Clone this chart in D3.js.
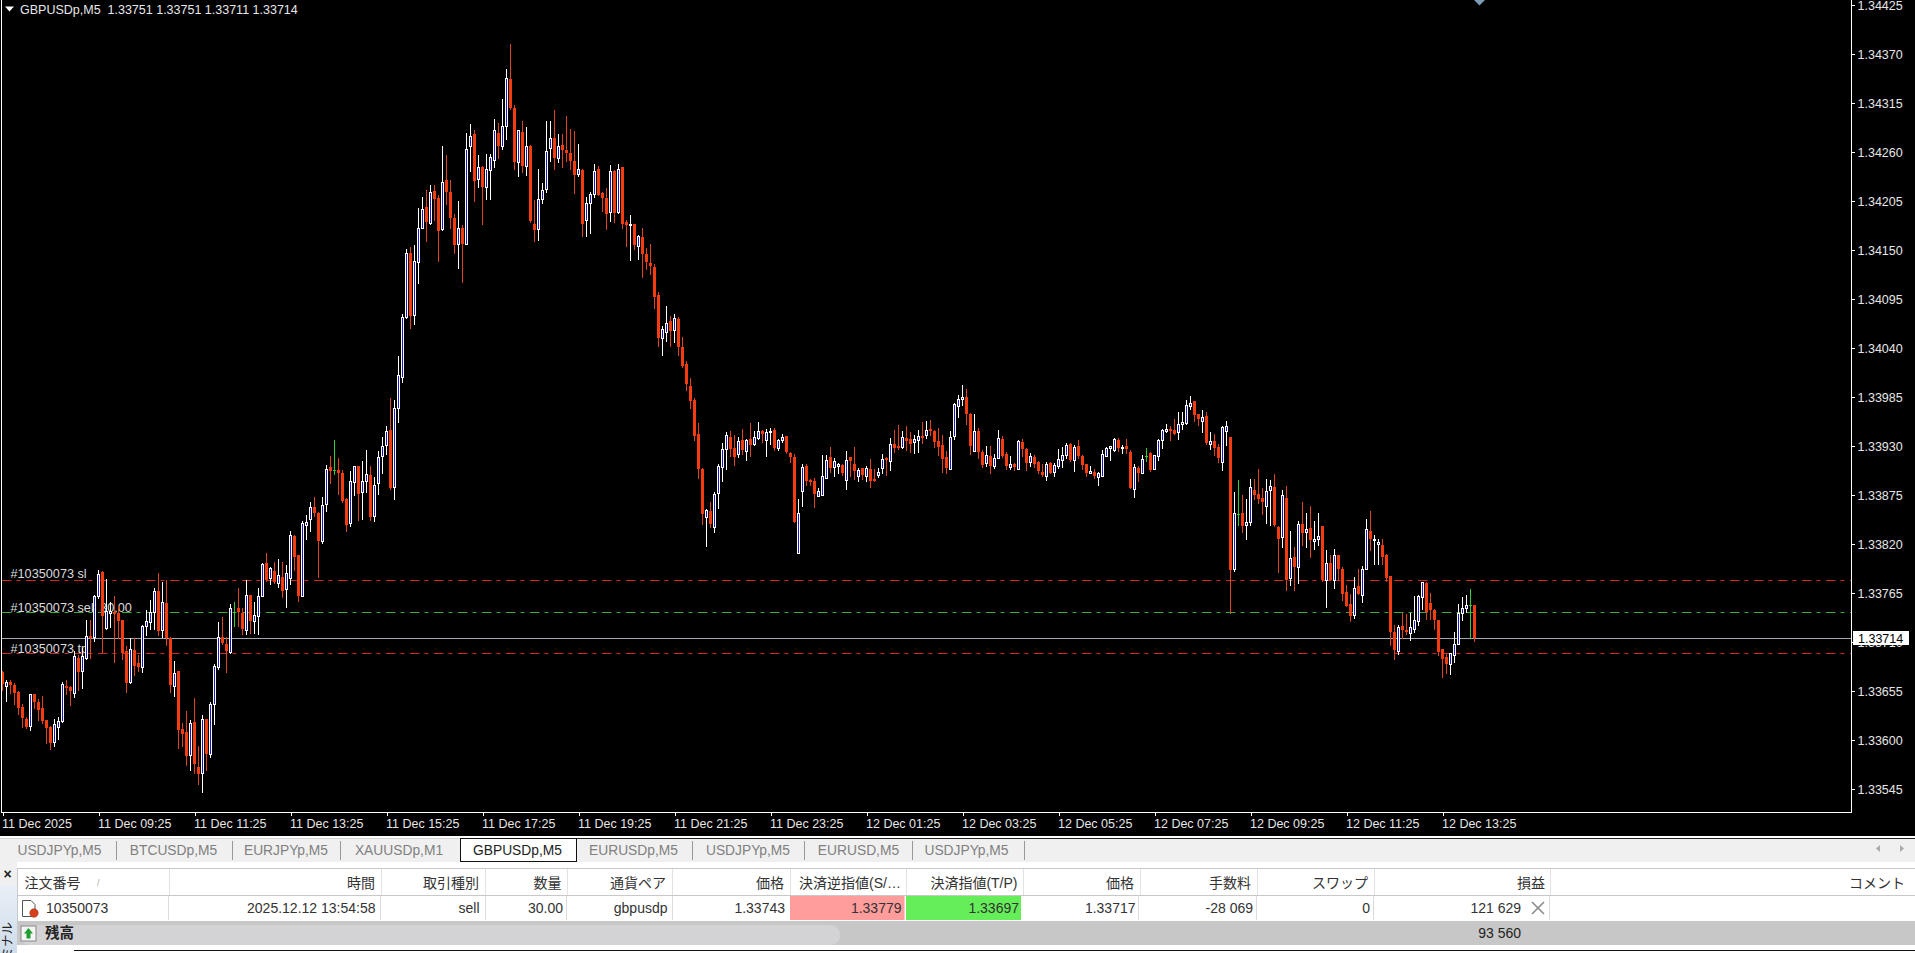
<!DOCTYPE html>
<html><head><meta charset="utf-8"><title>GBPUSDp,M5</title>
<script src="https://cdn.jsdelivr.net/npm/d3@7"></script>
<style>
html,body{margin:0;padding:0;background:#000;overflow:hidden}
svg{display:block}
text{font-family:"Liberation Sans","Noto Sans CJK JP",sans-serif}
</style></head><body><svg id="c" width="1915" height="953"></svg>
<script>
// ---- data: prices are stored as points above 1.33000 ----
const priceBase = 1.33;
const openPts = [676,661,665,662,654,637,624,616,651,643,636,622,615,598,615,621,661,659,653,692,677,692,717,715,761,788,726,742,744,742,734,700,665,701,686,682,728,732,744,767,723,754,714,660,677,612,609,583,620,570,563,623,584,640,682,716,708,699,743,748,742,723,
763,733,739,762,798,782,789,776,783,769,782,829,807,762,841,848,861,855,823,865,906,903,903,899,870,843,889,907,878,891,897,851,888,919,931,948,884,973,1007,1075,1147,1077,1136,1175,1198,1180,1216,1208,1173,1228,1215,1186,1156,1175,1157,1266,1280,1230,1243,1220,1240,1251,1281,
1267,1289,1342,1309,1249,1282,1244,1267,1179,1173,1207,1218,1264,1276,1253,1268,1262,1259,1250,1235,1240,1183,1203,1213,1241,1214,1208,1192,1239,1192,1243,1181,1178,1179,1154,1164,1145,1135,1131,1099,1051,1058,1070,1060,1072,1041,1022,997,981,943,904,850,857,839,877,906,926,940,928,921,937,924,
938,932,939,947,937,946,948,928,937,941,922,918,810,879,907,892,890,874,875,894,918,906,907,909,892,918,910,896,905,896,904,893,897,905,916,913,932,930,929,939,938,934,937,941,942,949,947,936,931,918,904,941,975,983,985,966,924,947,923,911,919,907,916,
938,921,906,910,904,934,927,912,918,912,901,896,911,901,907,914,920,932,914,930,919,910,899,901,895,896,919,928,925,937,928,930,923,882,905,900,919,922,904,919,937,947,949,948,946,955,956,975,980,966,958,964,932,936,929,912,947,940,792,853,
855,841,844,881,876,872,862,880,884,839,828,872,782,805,794,842,833,838,823,825,840,779,798,780,807,792,766,752,740,773,763,792,835,824,820,819,807,784,721,700,728,723,720,724,733,760,776,754,746,734,702,693,685,695,708,742,748,751,751];
const highPts = [677,667,667,664,655,640,626,651,652,646,649,622,616,623,626,665,667,661,700,695,703,735,734,763,791,790,781,755,761,750,735,705,714,714,695,729,746,757,770,787,777,780,716,688,677,619,632,622,647,593,628,623,643,685,732,738,716,752,755,770,748,779,
763,755,771,798,810,794,800,803,800,796,835,830,807,846,852,867,873,856,873,908,919,937,916,903,871,902,907,907,913,925,907,895,924,940,952,984,981,1031,1078,1151,1153,1155,1197,1209,1217,1223,1223,1212,1267,1256,1228,1190,1205,1178,1281,1291,1285,1256,1244,1257,1257,1297,1292,
1319,1353,1381,1312,1285,1295,1288,1268,1206,1241,1225,1295,1295,1307,1280,1280,1300,1286,1283,1269,1241,1209,1215,1246,1244,1215,1219,1245,1240,1246,1243,1183,1189,1179,1167,1175,1152,1157,1134,1103,1064,1087,1076,1078,1075,1052,1025,1006,984,956,905,859,867,878,910,933,945,947,942,940,949,938,
956,947,957,948,949,950,950,938,943,941,923,921,870,910,910,893,894,883,920,920,929,916,911,910,924,918,929,905,905,907,915,904,905,921,918,939,948,953,947,952,945,942,948,957,958,959,948,950,942,924,947,978,987,998,994,967,966,950,925,930,930,921,948,
941,923,919,911,937,938,928,922,920,913,910,912,912,911,927,929,933,933,931,937,920,910,907,904,901,925,929,930,939,939,931,938,925,910,907,920,928,923,920,938,949,955,952,960,968,968,982,986,980,966,970,968,945,943,932,952,958,940,878,892,
875,870,893,893,904,883,893,892,898,840,880,885,834,816,846,867,855,862,846,855,840,813,807,814,807,794,774,764,783,792,795,848,857,830,825,826,809,784,729,729,742,741,742,761,763,777,777,765,747,734,702,696,697,721,752,760,763,769,751];
const lowPts = [656,644,653,640,629,614,613,611,636,622,619,596,590,593,601,620,651,639,648,656,658,691,692,711,759,699,724,727,687,714,691,654,664,673,677,676,718,725,725,718,716,707,654,649,591,593,572,566,563,551,542,566,581,618,680,708,676,698,728,728,719,719,
720,720,719,761,778,775,776,772,760,749,775,791,756,761,825,834,851,783,821,857,888,898,876,867,835,840,875,847,848,878,847,846,876,900,921,882,870,957,1002,1074,1062,1067,1113,1174,1160,1179,1184,1138,1172,1201,1175,1146,1130,1114,1156,1238,1205,1220,1179,1207,1207,1243,1253,
1263,1274,1308,1241,1233,1237,1234,1181,1160,1161,1203,1215,1250,1241,1249,1243,1250,1241,1214,1233,1166,1166,1169,1209,1211,1194,1173,1182,1181,1191,1174,1154,1139,1151,1140,1120,1128,1123,1085,1042,1032,1048,1042,1047,1032,1019,993,972,937,894,842,818,839,833,860,891,904,919,909,917,921,914,
919,931,938,934,919,932,925,925,934,922,912,844,810,863,886,886,861,874,875,894,901,896,899,897,882,896,893,890,893,891,884,890,895,900,897,903,923,927,928,925,923,922,923,933,939,942,929,920,901,899,904,938,962,976,955,921,924,916,906,907,900,905,916,
918,904,904,903,904,919,903,907,906,900,896,892,900,896,905,906,916,913,902,916,904,896,899,894,886,896,919,914,924,924,922,922,883,873,891,900,913,902,904,914,928,945,937,943,938,949,955,971,958,953,946,932,927,920,912,903,931,742,789,841,
833,825,841,870,866,853,843,841,840,788,816,768,774,768,776,819,816,805,814,819,778,749,779,771,779,757,750,733,737,764,755,792,813,797,797,797,778,706,691,696,714,719,712,721,729,747,736,736,724,695,671,675,674,687,708,734,743,714,711];
const closePts = [663,665,662,653,636,625,614,651,643,633,621,613,596,618,621,663,658,655,694,676,694,717,714,761,786,739,745,745,742,733,698,664,702,683,682,728,733,744,767,722,755,714,662,675,611,607,582,619,573,562,624,584,640,683,716,709,700,748,743,743,724,763,
733,740,761,797,780,793,777,785,767,787,830,805,761,843,845,861,855,823,864,904,902,903,900,868,841,890,907,876,891,898,850,886,918,930,947,883,973,1009,1075,1146,1076,1137,1174,1196,1181,1215,1207,1171,1226,1215,1186,1155,1174,1156,1263,1278,1227,1243,1220,1241,1254,1284,1266,
1289,1343,1309,1249,1284,1244,1266,1182,1172,1207,1217,1261,1276,1253,1266,1262,1259,1250,1234,1241,1179,1202,1213,1239,1212,1208,1190,1238,1191,1241,1179,1178,1179,1155,1166,1145,1136,1132,1097,1051,1061,1068,1059,1074,1041,1020,999,980,941,904,853,858,842,876,907,926,942,927,918,936,925,937,
931,940,947,943,945,947,928,937,940,923,918,844,855,906,891,890,876,879,896,914,905,913,910,900,914,913,902,903,897,905,891,891,901,915,914,932,928,928,940,936,932,938,941,939,948,947,934,929,915,905,940,977,983,985,966,930,947,923,909,920,907,916,939,
919,907,910,906,936,927,911,919,910,902,897,910,900,909,915,920,931,914,929,919,909,900,902,896,899,921,928,930,938,928,929,927,883,906,900,915,919,903,920,937,948,949,947,943,955,957,976,978,965,960,962,933,936,928,916,951,952,791,855,853,
840,844,884,875,870,867,879,885,841,826,875,780,804,794,842,832,837,824,826,829,779,798,780,807,792,764,750,739,771,764,792,837,825,826,822,805,782,721,701,727,723,721,727,734,761,777,743,746,734,699,691,685,697,708,742,748,751,751,714];

const priceTicks = [1.34425,1.3437,1.34315,1.3426,1.34205,1.3415,1.34095,1.3404,1.33985,1.3393,1.33875,1.3382,1.33765,1.3371,1.33655,1.336,1.33545];
const timeLabels = ["11 Dec 2025","11 Dec 09:25","11 Dec 11:25","11 Dec 13:25","11 Dec 15:25","11 Dec 17:25","11 Dec 19:25","11 Dec 21:25","11 Dec 23:25","12 Dec 01:25","12 Dec 03:25","12 Dec 05:25","12 Dec 07:25","12 Dec 09:25","12 Dec 11:25","12 Dec 13:25"];
const barsPerTick = 24;
const bidPrice = 1.33714, slPrice = 1.33779, entryPrice = 1.33743, tpPrice = 1.33697;
const chartTitle = "GBPUSDp,M5  1.33751 1.33751 1.33711 1.33714";
const tabNames = ["USDJPYp,M5","BTCUSDp,M5","EURJPYp,M5","XAUUSDp,M1","GBPUSDp,M5","EURUSDp,M5","USDJPYp,M5","EURUSD,M5","USDJPYp,M5"];
const activeTab = 4;
const headerNames = ["時間","取引種別","数量","通貨ペア","価格","決済逆指値(S/…","決済指値(T/P)","価格","手数料","スワップ","損益","コメント"];
const orderValues = ["2025.12.12 13:54:58","sell","30.00","gbpusdp","1.33743","1.33779","1.33697","1.33717","-28 069","0","121 629"];
const orderId = "10350073", balanceLabel = "残高", balanceValue = "93 560";

// ---- layout ----
const W=1915, plotL=1.5, plotR=1851.5, plotB=812.5;
const svg=d3.select("#c");
const x=d3.scaleLinear().domain([0,barsPerTick]).range([2.5,98.5]);
const y=d3.scaleLinear().domain([1.33545,1.34425]).range([788.9,4.8]);
const px=p=>(Math.round(priceBase*1e5)+p)/1e5;
const Y=p=>Math.round(y(p));
const bars=openPts.map((o,i)=>({i,o:px(o),h:px(highPts[i]),l:px(lowPts[i]),c:px(closePts[i])}));
const col={up:"#ffffff",upFill:"#1616c8",down:"#f43c10",downWick:"#dc4420",doji:"#32cd32"};

svg.append("rect").attr("width",W).attr("height",953).attr("fill","#000");

// order labels and price lines sit behind the candles
const g=svg.append("g");
[["#10350073 sl",573.5],["#10350073 sell 30.00",607],["#10350073 tp",648]].forEach(([t,cy])=>{
  g.append("text").text(t).attr("x",10.5).attr("y",cy).attr("dy","0.36em").attr("fill","#dcdcdc").attr("font-size",12.7);
});
[[slPrice,"#cf2a1e"],[entryPrice,"#3fae3a"],[tpPrice,"#cf2a1e"]].forEach(([p,c])=>{
  g.append("line").attr("x1",2).attr("x2",plotR).attr("y1",Y(p)+.5).attr("y2",Y(p)+.5)
   .attr("stroke",c).attr("stroke-dasharray","9.5,5,4,5.5");
});
g.append("line").attr("x1",2).attr("x2",plotR).attr("y1",Y(bidPrice)+.5).attr("y2",Y(bidPrice)+.5).attr("stroke","#a4a8b0");

// candles
const cg=svg.append("g").attr("shape-rendering","crispEdges");
const kind=d=>d.c>d.o?"up":d.c<d.o?"down":"doji";
cg.selectAll("line.w").data(bars).join("line").attr("class","w")
  .attr("x1",d=>x(d.i)).attr("x2",d=>x(d.i)).attr("y1",d=>Y(d.h)).attr("y2",d=>Y(d.l)+1)
  .attr("stroke",d=>kind(d)==="up"?col.up:kind(d)==="down"?col.downWick:col.doji);
cg.selectAll("rect.b").data(bars.filter(d=>kind(d)!=="doji")).join("rect").attr("class","b")
  .attr("x",d=>x(d.i)-(kind(d)==="up"?1:1.5)).attr("width",d=>kind(d)==="up"?2:3)
  .attr("y",d=>Y(Math.max(d.o,d.c))+(kind(d)==="up"?.5:0))
  .attr("height",d=>Math.max(kind(d)==="up"?1:2,Y(Math.min(d.o,d.c))-Y(Math.max(d.o,d.c))))
  .attr("fill",d=>kind(d)==="up"?col.upFill:col.down)
  .attr("stroke",d=>kind(d)==="up"?col.up:"none");
cg.selectAll("line.d").data(bars.filter(d=>kind(d)==="doji")).join("line").attr("class","d")
  .attr("x1",d=>x(d.i)-1.5).attr("x2",d=>x(d.i)+1.5).attr("y1",d=>Y(d.o)+.5).attr("y2",d=>Y(d.o)+.5).attr("stroke",col.doji);

// frame and axes
const frame=svg.append("g").attr("shape-rendering","crispEdges").attr("stroke","#fff");
frame.append("line").attr("x1",plotL).attr("x2",plotL).attr("y1",0).attr("y2",plotB);
frame.append("line").attr("x1",plotL).attr("x2",plotR).attr("y1",plotB).attr("y2",plotB);
frame.append("line").attr("x1",plotR).attr("x2",plotR).attr("y1",0).attr("y2",plotB);

const ay=svg.append("g").attr("transform",`translate(${plotR},0)`)
  .call(d3.axisRight(y).tickValues(priceTicks).tickFormat(d3.format(".5f")).tickSize(3).tickPadding(3));
const ax=svg.append("g").attr("transform",`translate(0,${plotB})`)
  .call(d3.axisBottom(x).tickValues(timeLabels.map((_,i)=>i*barsPerTick)).tickFormat((_,i)=>timeLabels[i]).tickSize(3).tickPadding(4));
[ay,ax].forEach(a=>{a.select(".domain").remove();a.selectAll("line").attr("stroke","#fff").attr("shape-rendering","crispEdges");
  a.selectAll("text").attr("fill","#e6e6e6").attr("font-size",12.5).attr("font-family",'"Liberation Sans",sans-serif');});
ax.selectAll("text").attr("text-anchor","start").attr("dx",-1);
ay.selectAll("text").attr("transform","translate(0,0.5)");

// bid price box
svg.append("rect").attr("x",1853).attr("y",631).attr("width",56).attr("height",14).attr("fill","#fff");
svg.append("text").text(d3.format(".5f")(bidPrice)).attr("x",1858).attr("y",Y(bidPrice)).attr("dy","0.38em").attr("fill","#000").attr("font-size",12.5);

// title
svg.append("path").attr("d","M5,6.5H14L9.5,11.5Z").attr("fill","#fff");
svg.append("text").text(chartTitle).attr("x",20).attr("y",9).attr("dy","0.36em").attr("fill","#e8e8e8").attr("font-size",12.5).style("white-space","pre");
svg.append("path").attr("d","M1474,0H1485L1479.5,5.5Z").attr("fill","#7b9ab5");

// ---- lower panels ----
const ui=svg.append("g");
ui.append("rect").attr("x",0).attr("y",836).attr("width",W).attr("height",117).attr("fill","#fff");
ui.append("rect").attr("x",0).attr("y",839).attr("width",W).attr("height",23).attr("fill","#f0f0f0");
ui.append("line").attr("x1",0).attr("x2",461).attr("y1",838.5).attr("y2",838.5).attr("stroke","#d4d4d4").attr("shape-rendering","crispEdges");
ui.append("line").attr("x1",576).attr("x2",W).attr("y1",838.5).attr("y2",838.5).attr("stroke","#222").attr("shape-rendering","crispEdges");
const tabSep=[116,232.5,340,692.5,804.5,912.5,1024];
tabSep.forEach(v=>ui.append("line").attr("x1",v).attr("x2",v).attr("y1",841).attr("y2",860).attr("stroke","#999").attr("shape-rendering","crispEdges"));
ui.append("rect").attr("x",460.5).attr("y",838.5).attr("width",115.5).attr("height",23).attr("fill","#fff").attr("stroke","#111").attr("shape-rendering","crispEdges");
const tabCx=[59.5,173.5,286,399,517.5,633.5,748,858.5,966.5];
tabNames.forEach((t,i)=>ui.append("text").text(t).attr("x",tabCx[i]).attr("y",850).attr("dy","0.36em").attr("text-anchor","middle")
  .attr("font-size",13.8).attr("fill",i===activeTab?"#222":"#808080"));
ui.append("path").attr("d","M1880,845V852L1876,848.5Z").attr("fill","#aaa");
ui.append("path").attr("d","M1900,845V852L1904,848.5Z").attr("fill","#aaa");

// left strip
ui.append("rect").attr("x",0).attr("y",862).attr("width",17).attr("height",91).attr("fill","#f0f0f0");
const gr=svg.append("defs").append("linearGradient").attr("id","strip").attr("x1",0).attr("x2",0).attr("y1",0).attr("y2",1);
gr.append("stop").attr("offset",0).attr("stop-color","#e9eff6");gr.append("stop").attr("offset",1).attr("stop-color","#cfdcea");
ui.append("rect").attr("x",0).attr("y",885).attr("width",17).attr("height",68).attr("fill","url(#strip)");
ui.append("text").text("×").attr("x",7.5).attr("y",874).attr("dy","0.36em").attr("text-anchor","middle").attr("font-size",14).attr("font-weight","bold").attr("fill","#222");
ui.append("text").text("ターミナル").attr("transform","translate(12,922) rotate(-90)").attr("text-anchor","end").attr("font-size",12.5).attr("fill","#222");

// table
ui.append("line").attr("x1",17).attr("x2",W).attr("y1",868.5).attr("y2",868.5).attr("stroke","#c8c8c8").attr("shape-rendering","crispEdges");
ui.append("line").attr("x1",17).attr("x2",W).attr("y1",895.5).attr("y2",895.5).attr("stroke","#c8c8c8").attr("shape-rendering","crispEdges");
ui.append("line").attr("x1",17.5).attr("x2",17.5).attr("y1",868).attr("y2",945).attr("stroke","#c8c8c8").attr("shape-rendering","crispEdges");
const headSep=[169.5,381,485.5,567.5,672.5,790,906,1023.5,1140,1257.5,1374.5,1550];
headSep.forEach(v=>ui.append("line").attr("x1",v).attr("x2",v).attr("y1",869).attr("y2",895).attr("stroke","#e2e2e2").attr("shape-rendering","crispEdges"));
const rowSep=[168.5,380,485,566.5,672,1138.5,1256,1373,1549];
rowSep.forEach(v=>ui.append("line").attr("x1",v).attr("x2",v).attr("y1",896).attr("y2",920).attr("stroke","#dcdcdc").attr("shape-rendering","crispEdges"));
const headEnd=[375,479,561.5,666,784,901,1017.5,1134,1251,1368,1545,1905];
const CJK='"Noto Sans CJK JP","Liberation Sans",sans-serif';
ui.append("text").text("注文番号").attr("x",24.5).attr("y",883).attr("dy","0.36em").attr("font-size",14).attr("fill","#333").attr("font-family",CJK);
ui.append("text").text("/").attr("x",97).attr("y",883).attr("dy","0.36em").attr("font-size",9).attr("fill","#aaa");
headerNames.forEach((t,i)=>ui.append("text").text(t).attr("x",headEnd[i]).attr("y",883).attr("dy","0.36em").attr("text-anchor","end")
  .attr("font-size",14).attr("fill","#333").attr("font-family",CJK));
ui.append("rect").attr("x",790).attr("y",896).attr("width",114.5).attr("height",24).attr("fill","#ff9c9c");
ui.append("rect").attr("x",906).attr("y",896).attr("width",115).attr("height",24).attr("fill","#66ee5a");
const rowEnd=[375.5,479.5,563,667.5,785,901.5,1019,1135.5,1253,1370,1521];
ui.append("text").text(orderId).attr("x",46).attr("y",908).attr("dy","0.36em").attr("font-size",14).attr("fill","#333");
orderValues.forEach((t,i)=>ui.append("text").text(t).attr("x",rowEnd[i]).attr("y",908).attr("dy","0.36em").attr("text-anchor","end").attr("font-size",14).attr("fill","#333"));
// order icon
ui.append("path").attr("d","M22.5,900.5H31L35,904.5V916.5H22.5Z").attr("fill","#fff").attr("stroke","#555");
ui.append("circle").attr("cx",34).attr("cy",913).attr("r",4.2).attr("fill","#d8401c").attr("stroke","#a03010").attr("stroke-width",.6);
// close cross
ui.append("path").attr("d","M1532,902L1544,914M1544,902L1532,914").attr("stroke","#8c8c8c").attr("stroke-width",1.6).attr("fill","none");
// balance row
ui.append("rect").attr("x",18).attr("y",921).attr("width",W-18).attr("height",24).attr("fill","#c7c7c7");
ui.append("rect").attr("x",20).attr("y",925).attr("width",820).attr("height",20).attr("rx",9).attr("fill","#d3d3d5");
ui.append("rect").attr("x",21).attr("y",926).attr("width",15).attr("height",15).attr("fill","#f4f4f4").attr("stroke","#888");
ui.append("path").attr("d","M28.5,928L33,933.5H30.5V938.5H26.5V933.5H24Z").attr("fill","#1e9e30");
ui.append("text").text(balanceLabel).attr("x",45).attr("y",933).attr("dy","0.36em").attr("font-size",14.5).attr("font-weight","bold").attr("fill","#222").attr("font-family",CJK);
ui.append("text").text(balanceValue).attr("x",1521).attr("y",933).attr("dy","0.36em").attr("text-anchor","end").attr("font-size",14).attr("fill","#222");
ui.append("line").attr("x1",74).attr("x2",W).attr("y1",950.5).attr("y2",950.5).attr("stroke","#111").attr("shape-rendering","crispEdges");
</script></body></html>
